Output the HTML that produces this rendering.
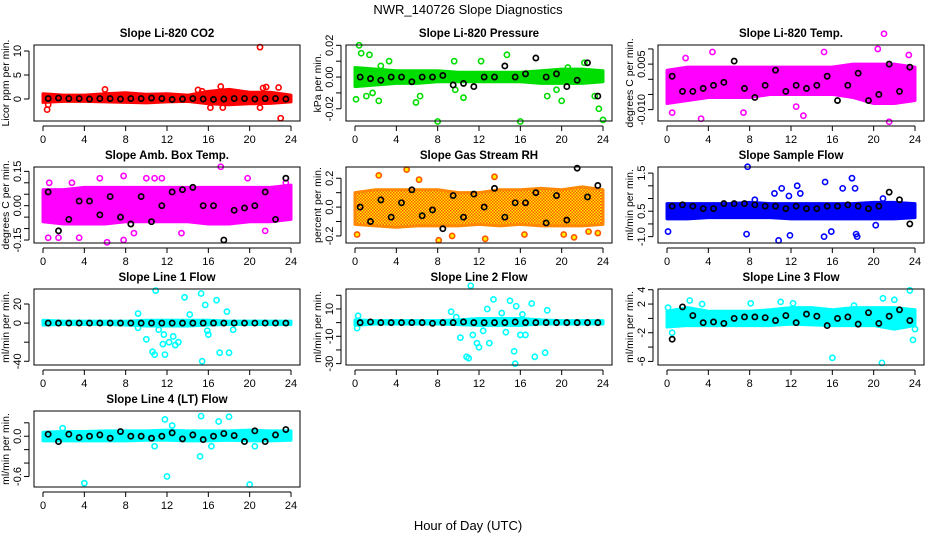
<!DOCTYPE html>
<html><head><meta charset="utf-8">
<style>
body{margin:0;background:#fff;}
svg{display:block;font-family:"Liberation Sans",sans-serif;}
</style></head>
<body>
<svg id="chart" width="936" height="540" viewBox="0 0 936 540">
<text x="468" y="14" text-anchor="middle" font-size="13">NWR_140726  Slope Diagnostics</text>
<text x="468" y="530" text-anchor="middle" font-size="13">Hour of Day (UTC)</text>
</svg>
<script>
const xTicks = [0,4,8,12,16,20,24];
const bandHours = [0,2,4,6,8,10,12,14,16,18,20,22,24];

const titles = ["Slope Li-820 CO2","Slope Li-820 Pressure","Slope Li-820 Temp.","Slope Amb. Box Temp.","Slope Gas Stream RH","Slope Sample Flow","Slope Line 1 Flow","Slope Line 2 Flow","Slope Line 3 Flow","Slope Line 4 (LT) Flow"];
const yTitles = ["Licor ppm per min.","kPa per min.","degrees C per min.","degrees C per min.","percent per min.","ml/min per min.","ml/min per min.","ml/min per min.","ml/min per min.","ml/min per min."];
const colors = ["#ff0000","#00dd00","#ff00ff","#ff00ff","#ff8800","#0000ff","#00ffff","#00ffff","#00ffff","#00ffff"];
const yMin = [-4.58,-0.0277,-0.01375,-0.163,-0.249,-1.25,-43.9,-31,-6.5,-0.757];
const yMax = [11.25,0.0202,0.0113,0.169,0.278,1.74,35.7,24.6,4.1,0.376];
const yTickVals = [[0,5,10],[-0.02,-0.01,0,0.01,0.02],[-0.01,-0.005,0,0.005,0.01],[-0.15,-0.1,-0.05,0,0.05,0.1,0.15],[-0.2,-0.1,0,0.1,0.2],[-1,-0.5,0,0.5,1,1.5],[-40,-20,0,20],[-30,-20,-10,0,10,20],[-6,-4,-2,0,2,4],[-0.6,-0.4,-0.2,0,0.2]];
const yTickLabels = [["0","5","10"],["-0.02","","0.00","","0.02"],["-0.010","","","0.005",""],["-0.15","","","0.00","","","0.15"],["-0.2","","0.0","","0.2"],["-1.0","","0.5","","","1.5"],["-40","","0","20"],["-30","","-10","","10",""],["-6","","-2","","2","4"],["-0.6","","","0.0",""]];

const bandLo = [
[-0.7,-0.5,-0.5,-0.6,-0.7,-0.8,-0.6,-0.5,-1.0,-1.2,-1.0,-0.9,-0.6],
[-0.006,-0.005,-0.004,-0.004,-0.003,-0.003,-0.003,-0.003,-0.003,-0.004,-0.004,-0.004,-0.003],
[-0.008,-0.007,-0.006,-0.006,-0.006,-0.005,-0.005,-0.005,-0.005,-0.006,-0.008,-0.008,-0.007],
[-0.07,-0.08,-0.08,-0.08,-0.07,-0.07,-0.07,-0.07,-0.08,-0.08,-0.07,-0.07,-0.06],
[-0.12,-0.13,-0.14,-0.13,-0.13,-0.13,-0.12,-0.13,-0.12,-0.13,-0.13,-0.13,-0.12],
[-0.3,-0.3,-0.25,-0.25,-0.25,-0.25,-0.3,-0.3,-0.3,-0.3,-0.3,-0.3,-0.25],
[-2,-1.5,-1.5,-1.5,-2,-3,-3,-3,-2,-1.5,-1.5,-1.5,-1.5],
[-2,-1,-1,-1,-1,-1.5,-2,-2,-2,-1,-1,-1,-1],
[-1.2,-1.0,-1.0,-1.0,-1,-1,-0.8,-0.9,-1,-1,-1,-1.5,-1],
[-0.07,-0.07,-0.07,-0.07,-0.07,-0.06,-0.06,-0.07,-0.07,-0.06,-0.07,-0.07,-0.06]];
const bandHi = [
[1.1,0.8,0.8,1.1,1.3,1.0,1.1,0.8,1.6,2.0,1.4,1.4,0.8],
[0.006,0.005,0.004,0.004,0.004,0.003,0.003,0.003,0.003,0.004,0.005,0.005,0.004],
[0.003,0.004,0.004,0.004,0.004,0.004,0.004,0.004,0.004,0.005,0.005,0.005,0.004],
[0.07,0.07,0.08,0.08,0.08,0.08,0.08,0.08,0.08,0.08,0.08,0.08,0.09],
[0.1,0.12,0.12,0.12,0.12,0.1,0.1,0.12,0.12,0.13,0.12,0.14,0.12],
[0.3,0.3,0.3,0.3,0.35,0.3,0.3,0.3,0.3,0.3,0.35,0.35,0.3],
[3,2,2,2,2,3,3,3,3,2,2,2,2],
[2,1.5,1.5,1.5,1.5,2,3,3,3,2,1.5,1.5,1.5],
[1,1.5,1,1,1,1.2,1.5,1.5,1.2,1.5,1.5,1.5,1.2],
[0.06,0.07,0.07,0.08,0.08,0.08,0.09,0.08,0.08,0.08,0.09,0.08,0.08]];

const outliers = [
[[0.4,-2.2],[0.5,-1.2],[6,2],[15,1.9],[15.4,1.6],[16.2,-1.8],[17.2,2.6],[17.4,-1.8],[21,10.8],[21,-1.8],[21.6,2.5],[22.8,2.4],[23,-4],[21.3,2.3]],
[[0.1,-0.014],[0.4,0.02],[0.6,0.015],[1.4,0.014],[2.3,-0.015],[3.3,0.01],[5.9,-0.016],[8,-0.028],[9.6,0.01],[12.2,0.01],[14.7,0.014],[16,-0.028],[20,-0.015],[23.6,-0.02],[24,-0.027],[1.7,-0.01],[1.1,-0.012],[2.5,0.007],[6.3,-0.012],[9.7,-0.008],[10.5,-0.013],[19.5,-0.008],[20.6,0.006],[22.2,0.009],[23.2,-0.012],[18.6,-0.012]],
[[0.5,-0.011],[1.8,0.007],[3.3,-0.013],[4.4,0.009],[7.4,-0.011],[13.2,-0.012],[15.2,0.009],[20.4,0.01],[21,0.015],[21.5,-0.014],[23.4,0.008],[12.5,-0.009]],
[[0.6,0.1],[0.5,-0.14],[1.5,-0.14],[2.8,0.1],[3.5,-0.14],[5.5,0.12],[6.2,-0.16],[7.8,0.13],[8.8,-0.12],[10,0.12],[10.8,0.12],[11.5,0.12],[13.4,-0.12],[17.2,0.17],[19.8,0.12],[21.5,-0.11],[23.5,0.1],[7.8,-0.15]],
[[0.2,-0.19],[2.3,0.22],[5,0.26],[6.2,0.19],[8.1,-0.23],[9.4,-0.2],[12.6,-0.22],[13.5,0.21],[20.2,-0.19],[21.2,-0.21],[22.6,-0.17],[23.5,-0.18],[16.4,-0.19]],
[[0.1,-0.8],[7.8,1.75],[7.7,-0.9],[8.5,0.45],[10.4,0.7],[10.8,-1.15],[11.1,0.9],[11.8,0.6],[11.9,-0.95],[12.6,1.0],[12.9,0.7],[15.3,1.15],[15.2,-1.0],[15.9,-0.8],[17,0.9],[17.9,1.3],[18.2,0.9],[18.3,-0.9],[18.4,-1.0],[20.2,-0.55],[20.9,0.5]],
[[9.2,10],[9.2,-5],[10,-17],[10.6,-30],[10.8,-33],[10.9,34],[11.2,-7],[11.6,-22],[11.7,-12],[11.8,-33],[12.2,-20],[12.6,-14],[12.8,-23],[13.1,-20],[13.7,27],[14.2,9],[15.3,31],[15.4,-40],[15.7,19],[15.9,-8],[16,-12],[16.8,24],[17.1,-31],[17.8,12],[18,-31],[18.4,-7]],
[[0.2,-4],[0.3,5],[9.3,8],[9.8,4],[10.2,-11],[10.8,-25],[11,-26],[11.2,27],[11.4,-9],[11.8,-15],[12,-18],[12.4,-6],[12.8,10],[13,-15],[13.4,17],[14.2,7],[14.6,-7],[15,16],[15.4,-21],[15.5,-30],[15.6,12],[16,-9],[16.2,6],[16.5,-9],[17.1,14],[17.4,-25],[18.4,-22],[18.6,9]],
[[0.1,1.5],[0.5,-2],[2.2,2.5],[3.4,2],[8.1,2.1],[11,2.3],[12.2,2.1],[16,-5.5],[20.8,-6.2],[20.9,2.8],[22,2.6],[23.5,3.9],[23.8,-3],[24,-1.5],[18.1,1.8]],
[[1.9,0.12],[4,-0.7],[11.8,0.25],[12,-0.6],[12.5,0.16],[15.2,-0.3],[15.3,0.3],[16.3,-0.15],[17,0.22],[18,0.29],[20,-0.72],[20.5,-0.15],[10.8,-0.15]]];

const blackMeans = [
[0.1,0.2,0.1,0.1,0,0.1,0.1,0,0.1,0.1,0.2,0.1,-0.1,0,0.1,0,-0.1,0,0.1,0.1,0,0.1,0.1,0],
[0,-0.001,-0.002,0,0,-0.003,0,0,0.001,-0.005,-0.004,-0.006,0,0,0.007,0,0.002,0.012,0,0.002,-0.006,-0.002,0.009,-0.012],
[0.001,-0.004,-0.004,-0.003,-0.002,-0.001,0.006,-0.003,-0.006,-0.002,0.003,-0.004,-0.002,-0.003,-0.002,0.001,-0.007,-0.002,0.002,-0.007,-0.005,0.005,-0.004,0.004],
[0.06,-0.11,-0.06,0.02,0.02,-0.04,0.04,-0.05,-0.08,0.04,-0.07,0,0.06,0.07,0.08,0,0,-0.15,-0.02,-0.01,0,0.06,-0.06,0.12],
[0,-0.1,0.05,-0.07,0.03,0.12,-0.06,-0.02,-0.15,0.08,-0.07,0.09,0,0.13,-0.07,0.03,0.03,0.1,-0.11,0.08,-0.09,0.27,0.07,0.15],
[0.2,0.25,0.2,0.1,0.1,0.3,0.3,0.3,0.25,0.2,0.2,0.1,0.2,0.1,0.1,0.2,0.2,0.25,0.2,0.1,0.2,0.75,0.45,-0.5],
[0,0,0,0,0,0,0,0,0,0,0,0,0,0,0,0,0,0,0,0,0,0,0,0],
[0,0.5,0,0,0,0,0,-0.5,0,0,0.5,0,0,0,0,0.5,0,0,0,0,0,0,0,0],
[-2.9,1.6,0.4,-0.6,-0.5,-0.7,0,0.2,0.2,0.1,-0.3,0.4,-0.6,0.6,0.3,-1,0,0.2,-0.8,0.8,-0.7,0.3,1.2,-0.3],
[0.03,-0.08,0.03,-0.02,0,0.02,-0.03,0.07,0,0,-0.03,0,0.05,-0.04,0.02,-0.05,0,0.04,0.01,-0.08,0.08,-0.08,0.02,0.1]];

const NS = "http://www.w3.org/2000/svg";
const svg = document.getElementById("chart");
const colLeft = [34,346,658], rowTop = [45,167,289,411], boxW = 266, boxH = 76;

function mk(tag, attrs, parent){
  const e = document.createElementNS(NS, tag);
  for (const k in attrs) e.setAttribute(k, attrs[k]);
  (parent||svg).appendChild(e);
  return e;
}

const defs = mk("defs",{});
const pat = mk("pattern",{id:"rhpat",width:"3",height:"3",patternUnits:"userSpaceOnUse"},defs);
mk("rect",{x:0,y:0,width:3,height:3,fill:"#ffee00"},pat);
mk("rect",{x:0,y:0,width:1.5,height:1.5,fill:"#ff5500"},pat);
mk("rect",{x:1.5,y:1.5,width:1.5,height:1.5,fill:"#ff5500"},pat);

for (let p = 0; p < 10; p++) {
  const L = colLeft[p%3], T = rowTop[Math.floor(p/3)];
  const g = mk("g",{});
  
  
  const xs = v => L + 9 + v/24*248;
  const ys = v => T + boxH - (v - yMin[p])/(yMax[p]-yMin[p])*boxH;

  const t = mk("text",{x:L+boxW/2,y:T-8,"text-anchor":"middle","font-size":"11.5","font-weight":"bold"},g);
  t.textContent = titles[p];
  
  

  let pts = [];
  bandHours.forEach((h,i)=>pts.push(xs(h)+","+ys(bandHi[p][i])));
  for (let i = bandHours.length-1; i >= 0; i--) pts.push(xs(bandHours[i])+","+ys(bandLo[p][i]));
  const fill = p===4 ? "url(#rhpat)" : colors[p];
  const band = mk("polygon",{points:pts.join(" "),fill:fill,stroke:p===4?"#ff8800":colors[p],"stroke-width":"3","stroke-linejoin":"round"},g);
  
  

  outliers[p].forEach(o=>{
    const c = mk("circle",{cx:xs(o[0]),cy:ys(o[1]),r:2.6,fill:p===4?"#ffee00":"none",stroke:p===4?"#ff5500":colors[p],"stroke-width":"1.6"},g);
    
    
  });
  blackMeans[p].forEach((v,i)=>{
    const c = mk("circle",{cx:xs(0.5+i),cy:ys(v),r:2.6,fill:"none",stroke:"#000","stroke-width":"1.7"},g);
    
    
  });

  const box = mk("rect",{x:L,y:T,width:boxW,height:boxH,fill:"none",stroke:"#000","stroke-width":"1"},g);
  
  

  mk("line",{x1:xs(0),x2:xs(24),y1:T+boxH+5,y2:T+boxH+5,stroke:"#000"},g);
  xTicks.forEach(v=>{
    mk("line",{x1:xs(v),x2:xs(v),y1:T+boxH+5,y2:T+boxH+10,stroke:"#000"},g);
    const tl = mk("text",{x:xs(v),y:T+boxH+22,"text-anchor":"middle","font-size":"11"},g);
    tl.textContent = v;
    
    
  });
  const yv = yTickVals[p];
  mk("line",{x1:L-5,x2:L-5,y1:ys(yv[0]),y2:ys(yv[yv.length-1]),stroke:"#000"},g);
  yv.forEach((v,i)=>{
    mk("line",{x1:L-10,x2:L-5,y1:ys(v),y2:ys(v),stroke:"#000"},g);
    const s = yTickLabels[p][i];
    if (s) {
      const yl = mk("text",{x:0,y:0,"text-anchor":"middle","font-size":"11",transform:"translate("+(L-13)+","+ys(v)+") rotate(-90)"},g);
      yl.textContent = s;
      
      
    }
  });
  const yt = mk("text",{x:0,y:0,"text-anchor":"middle","font-size":"10.5",transform:"translate("+(L-25)+","+(T+boxH/2)+") rotate(-90)"},g);
  yt.textContent = yTitles[p];
  
  
}
</script>
</body></html>
